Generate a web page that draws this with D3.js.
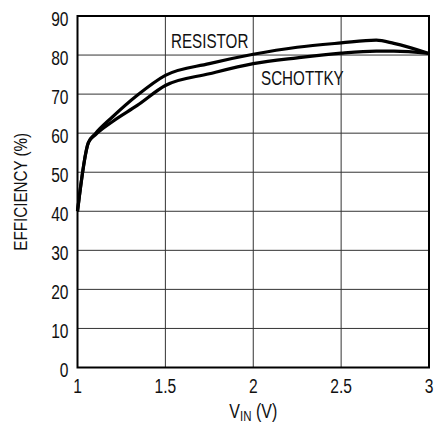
<!DOCTYPE html>
<html>
<head>
<meta charset="utf-8">
<script src="https://cdn.jsdelivr.net/npm/d3@7"></script>
<style>
  body { margin: 0; background: #fff; }
  svg text { font-family: 'Liberation Sans', Arial, sans-serif; fill: #111; }
</style>
</head>
<body>
<div id="chart"></div>
<script>
// input voltage points (V)
let vin = [1, 1.062, 1.1, 1.2, 1.34, 1.5, 1.75, 2, 2.25, 2.5, 2.7, 2.8, 3];
// efficiency (%)
let resistor = [40, 57.6, 59.8, 64.2, 69.7, 74.8, 77.8, 80.2, 82, 83.1, 83.8, 83, 80.4];
let schottky = [40, 57.6, 59.5, 63.0, 67.1, 72.2, 75.2, 77.8, 79.3, 80.5, 81, 81, 80.4];

let xTicks = [1, 1.5, 2, 2.5, 3];
let yTicks = [0, 10, 20, 30, 40, 50, 60, 70, 80, 90];

let width = 435;
let height = 425;
let margin = {top: 16, right: 6, bottom: 57.5, left: 77.5};

let svg = d3.select('#chart')
    .append('svg')
    .attr('width', width)
    .attr('height', height);

let x = d3.scaleLinear()
    .domain([1, 3])
    .range([margin.left, width - margin.right]);

let y = d3.scaleLinear()
    .domain([0, 90])
    .range([height - margin.bottom, margin.top]);

// narrow text: the original uses a condensed face, so squeeze Liberation Sans
function label(g, tx, ty, txt, size, anchor, sx) {
    return g.append('text')
        .attr('transform', `translate(${tx}, ${ty}) scale(${sx || 0.8}, 1)`)
        .attr('text-anchor', anchor || 'start')
        .style('font-size', size + 'px')
        .text(txt);
}

// grid
svg.append('g')
    .selectAll('line')
    .data(yTicks)
    .enter()
    .append('line')
        .attr('x1', x(1))
        .attr('x2', x(3))
        .attr('y1', d => y(d))
        .attr('y2', d => y(d))
        .attr('stroke', '#333')
        .attr('stroke-width', 1);

svg.append('g')
    .selectAll('line')
    .data(xTicks)
    .enter()
    .append('line')
        .attr('x1', d => x(d))
        .attr('x2', d => x(d))
        .attr('y1', y(0))
        .attr('y2', y(90))
        .attr('stroke', '#333')
        .attr('stroke-width', 1);

// frame
svg.append('rect')
    .attr('x', x(1))
    .attr('y', y(90))
    .attr('width', x(3) - x(1))
    .attr('height', y(0) - y(90))
    .attr('fill', 'none')
    .attr('stroke', '#000')
    .attr('stroke-width', 2);

// tick labels
let ticks = svg.append('g');
yTicks.forEach(d => label(ticks, x(1) - 9, y(d) + 9.5, d, 19.5, 'end'));
xTicks.forEach(d => label(ticks, x(d), y(0) + 25.5, d, 19.5, 'middle'));

// axis titles
svg.append('text')
    .attr('transform', `translate(27, ${(y(0) + y(90)) / 2}) rotate(-90) scale(0.8, 1)`)
    .attr('text-anchor', 'middle')
    .style('font-size', '19px')
    .text('EFFICIENCY (%)');

let xt = svg.append('text')
    .attr('transform', `translate(${(x(1) + x(3)) / 2}, 418) scale(0.82, 1)`)
    .attr('text-anchor', 'middle')
    .style('font-size', '19.5px');
xt.append('tspan').text('V');
xt.append('tspan').attr('dy', 3).style('font-size', '14px').text('IN');
xt.append('tspan').attr('dy', -3).text(' (V)');

// curves
let line = d3.line()
    .x(d => x(d[0]))
    .y(d => y(d[1]))
    .curve(d3.curveMonotoneX);

[resistor, schottky].forEach(series => {
    svg.append('path')
        .datum(vin.map((v, i) => [v, series[i]]))
        .attr('d', line)
        .attr('fill', 'none')
        .attr('stroke', '#000')
        .attr('stroke-width', 3.2)
        .attr('stroke-linejoin', 'round');
});

// curve labels
label(svg, 171, 48, 'RESISTOR', 20, 'start', 0.76);
label(svg, 261, 85, 'SCHOTTKY', 20, 'start', 0.76);
</script>
</body>
</html>
